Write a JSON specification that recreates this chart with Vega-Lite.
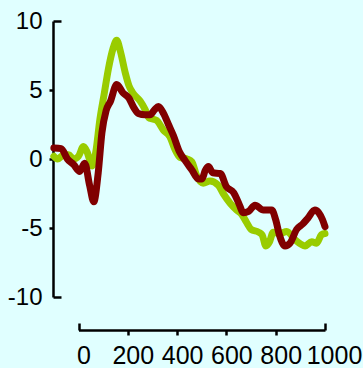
{
  "$schema": "https://vega.github.io/schema/vega-lite/v6.json",
  "width": 272,
  "height": 276,
  "autosize": "none",
  "padding": {"left": 53, "top": 21, "right": 38, "bottom": 71},
  "background": "#e0ffff",
  "config": {
    "view": {"stroke": null},
    "axis": {
      "labelFont": "Liberation Sans",
      "labelColor": "#000000",
      "domainColor": "#000000",
      "tickColor": "#000000",
      "domainWidth": 2.5,
      "tickWidth": 2.5,
      "grid": false,
      "title": null
    }
  },
  "data": {
    "values": [
      {"t": -100, "v": 0.2, "cond": "A"},
      {"t": -85, "v": 0.0, "cond": "A"},
      {"t": -60, "v": 0.3, "cond": "A"},
      {"t": -40, "v": 0.3, "cond": "A"},
      {"t": -20, "v": 0.0, "cond": "A"},
      {"t": 0, "v": 0.2, "cond": "A"},
      {"t": 20, "v": 0.9, "cond": "A"},
      {"t": 35, "v": 0.5, "cond": "A"},
      {"t": 55, "v": -0.5, "cond": "A"},
      {"t": 70, "v": 0.5, "cond": "A"},
      {"t": 87, "v": 2.9, "cond": "A"},
      {"t": 105, "v": 4.8, "cond": "A"},
      {"t": 121, "v": 6.5, "cond": "A"},
      {"t": 140, "v": 8.0, "cond": "A"},
      {"t": 155, "v": 8.6, "cond": "A"},
      {"t": 170, "v": 7.8, "cond": "A"},
      {"t": 189, "v": 6.3, "cond": "A"},
      {"t": 205, "v": 5.3, "cond": "A"},
      {"t": 220, "v": 4.8, "cond": "A"},
      {"t": 250, "v": 4.2, "cond": "A"},
      {"t": 270, "v": 3.6, "cond": "A"},
      {"t": 285, "v": 3.0, "cond": "A"},
      {"t": 300, "v": 2.9, "cond": "A"},
      {"t": 317, "v": 2.8, "cond": "A"},
      {"t": 344, "v": 2.1, "cond": "A"},
      {"t": 371, "v": 1.6, "cond": "A"},
      {"t": 391, "v": 0.7, "cond": "A"},
      {"t": 412, "v": 0.1, "cond": "A"},
      {"t": 440, "v": 0.0, "cond": "A"},
      {"t": 460, "v": -0.2, "cond": "A"},
      {"t": 479, "v": -1.2, "cond": "A"},
      {"t": 506, "v": -1.75, "cond": "A"},
      {"t": 533, "v": -1.6, "cond": "A"},
      {"t": 567, "v": -1.9, "cond": "A"},
      {"t": 587, "v": -2.5, "cond": "A"},
      {"t": 615, "v": -3.2, "cond": "A"},
      {"t": 642, "v": -3.7, "cond": "A"},
      {"t": 662, "v": -4.0, "cond": "A"},
      {"t": 682, "v": -4.6, "cond": "A"},
      {"t": 700, "v": -5.1, "cond": "A"},
      {"t": 730, "v": -5.3, "cond": "A"},
      {"t": 745, "v": -5.5, "cond": "A"},
      {"t": 760, "v": -6.3, "cond": "A"},
      {"t": 775, "v": -6.0, "cond": "A"},
      {"t": 790, "v": -5.3, "cond": "A"},
      {"t": 817, "v": -5.4, "cond": "A"},
      {"t": 845, "v": -5.25, "cond": "A"},
      {"t": 878, "v": -5.85, "cond": "A"},
      {"t": 919, "v": -6.3, "cond": "A"},
      {"t": 946, "v": -6.0, "cond": "A"},
      {"t": 966, "v": -6.1, "cond": "A"},
      {"t": 985, "v": -5.5, "cond": "A"},
      {"t": 1000, "v": -5.4, "cond": "A"},
      {"t": -100, "v": 0.8, "cond": "B"},
      {"t": -70, "v": 0.75, "cond": "B"},
      {"t": -45, "v": 0.0, "cond": "B"},
      {"t": -20, "v": -0.4, "cond": "B"},
      {"t": 5, "v": -0.9, "cond": "B"},
      {"t": 25, "v": -0.3, "cond": "B"},
      {"t": 45, "v": -1.9, "cond": "B"},
      {"t": 62, "v": -3.1, "cond": "B"},
      {"t": 80, "v": -1.0, "cond": "B"},
      {"t": 95, "v": 1.9, "cond": "B"},
      {"t": 112, "v": 3.5, "cond": "B"},
      {"t": 130, "v": 4.2, "cond": "B"},
      {"t": 155, "v": 5.4, "cond": "B"},
      {"t": 180, "v": 4.8, "cond": "B"},
      {"t": 205, "v": 4.4, "cond": "B"},
      {"t": 225, "v": 3.7, "cond": "B"},
      {"t": 243, "v": 3.3, "cond": "B"},
      {"t": 270, "v": 3.2, "cond": "B"},
      {"t": 290, "v": 3.2, "cond": "B"},
      {"t": 310, "v": 3.6, "cond": "B"},
      {"t": 324, "v": 3.8, "cond": "B"},
      {"t": 345, "v": 3.3, "cond": "B"},
      {"t": 365, "v": 2.5, "cond": "B"},
      {"t": 385, "v": 1.7, "cond": "B"},
      {"t": 410, "v": 0.5, "cond": "B"},
      {"t": 432, "v": -0.1, "cond": "B"},
      {"t": 460, "v": -0.8, "cond": "B"},
      {"t": 486, "v": -1.45, "cond": "B"},
      {"t": 500, "v": -1.45, "cond": "B"},
      {"t": 515, "v": -0.8, "cond": "B"},
      {"t": 527, "v": -0.55, "cond": "B"},
      {"t": 545, "v": -1.0, "cond": "B"},
      {"t": 575, "v": -1.05, "cond": "B"},
      {"t": 600, "v": -2.0, "cond": "B"},
      {"t": 630, "v": -2.45, "cond": "B"},
      {"t": 650, "v": -3.2, "cond": "B"},
      {"t": 669, "v": -3.9, "cond": "B"},
      {"t": 690, "v": -3.8, "cond": "B"},
      {"t": 716, "v": -3.35, "cond": "B"},
      {"t": 750, "v": -3.7, "cond": "B"},
      {"t": 784, "v": -3.7, "cond": "B"},
      {"t": 800, "v": -4.4, "cond": "B"},
      {"t": 815, "v": -5.5, "cond": "B"},
      {"t": 838, "v": -6.3, "cond": "B"},
      {"t": 858, "v": -6.1, "cond": "B"},
      {"t": 885, "v": -5.1, "cond": "B"},
      {"t": 910, "v": -4.7, "cond": "B"},
      {"t": 930, "v": -4.3, "cond": "B"},
      {"t": 959, "v": -3.7, "cond": "B"},
      {"t": 975, "v": -3.9, "cond": "B"},
      {"t": 990, "v": -4.4, "cond": "B"},
      {"t": 1000, "v": -4.9, "cond": "B"}
    ]
  },
  "mark": {
    "type": "line",
    "strokeWidth": 7,
    "strokeCap": "round",
    "strokeJoin": "round",
    "interpolate": "monotone"
  },
  "encoding": {
    "x": {
      "field": "t",
      "type": "quantitative",
      "scale": {"domain": [0, 1000], "range": [25.5, 272], "nice": false, "zero": false},
      "axis": {
        "values": [0, 200, 400, 600, 800, 1000],
        "labelExpr": "'' + datum.value",
        "offset": 33,
        "labelFontSize": 25,
        "labelOffset": {"condition": {"test": "datum.value === 1000", "value": 9}, "value": 5},
        "labelFlush": false,
        "labelOverlap": false,
        "tickSize": {"condition": {"test": "datum.value === 0 || datum.value === 1000", "value": -7}, "value": 5},
        "labelPadding": {"condition": {"test": "datum.value === 0 || datum.value === 1000", "value": 20}, "value": 8}
      }
    },
    "y": {
      "field": "v",
      "type": "quantitative",
      "scale": {"domain": [-10, 10], "nice": false, "zero": false},
      "axis": {
        "values": [-10, -5, 0, 5, 10],
        "labelExpr": "'' + datum.value",
        "labelFontSize": 24,
        "labelFlush": false,
        "labelOverlap": false,
        "tickSize": {"condition": {"test": "datum.value === 10 || datum.value === -10", "value": -8}, "value": 4},
        "labelPadding": {"condition": {"test": "datum.value === 10 || datum.value === -10", "value": 19}, "value": 7}
      }
    },
    "color": {
      "field": "cond",
      "type": "nominal",
      "scale": {"domain": ["A", "B"], "range": ["#99cc00", "#800000"]},
      "legend": null
    },
    "order": {"field": "t", "type": "quantitative"}
  }
}
